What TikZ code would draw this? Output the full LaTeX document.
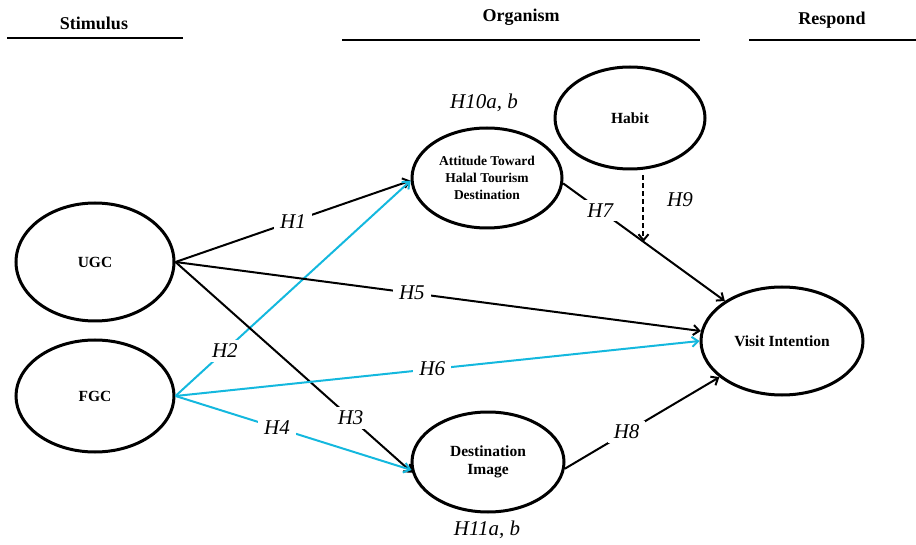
\documentclass[tikz,border=0pt]{standalone}
\usepackage{fontspec}
\setmainfont{Liberation Serif}
\usetikzlibrary{shapes.geometric,arrows.meta,calc}
\tikzset{
  construct/.style={draw, line width=3pt, ellipse, inner sep=0pt, align=center,
     font=\fontsize{15.5}{18}\selectfont\bfseries},
  link/.style={line width=2pt, -{Straight Barb[length=6pt,width=10pt,line width=2pt]}},
  cyanlink/.style={link, draw=hcyan},
  hlab/.style={fill=white, inner xsep=6pt, inner ysep=4pt, font=\fontsize{21}{23}\selectfont\itshape},
  glab/.style={inner sep=1pt, font=\fontsize{21}{23}\selectfont\itshape},
  header/.style={font=\fontsize{18}{20}\selectfont\bfseries},
  rule/.style={line width=2.2pt}
}
\definecolor{hcyan}{RGB}{20,184,222}
\begin{document}
\begin{tikzpicture}[x=1pt,y=-1pt]
\useasboundingbox (0,0) rectangle (916,545);
% headers
\node[header] (stim) at (94,23) {Stimulus};
\node[header] (org) at (521,17) {Organism};
\node[header] (resp) at (832,20) {Respond};
\coordinate (s1) at (7,38); \coordinate (s2) at (183,38);
\coordinate (o1) at (342,40); \coordinate (o2) at (700,40);
\coordinate (r1) at (749,40); \coordinate (r2) at (916,40);
\draw[rule] (s1) -- (s2);
\draw[rule] (o1) -- (o2);
\draw[rule] (r1) -- (r2);
% constructs
\node[construct, minimum width=158pt, minimum height=118pt] (ugc) at (95,262) {UGC};
\node[construct, minimum width=158pt, minimum height=112pt] (fgc) at (95,396) {FGC};
\node[construct, minimum width=150pt, minimum height=100pt,
      font=\fontsize{13.5}{17}\selectfont\bfseries] (att) at (487,178) {Attitude Toward\\Halal Tourism\\Destination};
\node[construct, minimum width=150pt, minimum height=102pt] (habit) at (630,118) {Habit};
\node[construct, minimum width=162pt, minimum height=108pt] (visit) at (782,341) {Visit Intention};
\node[construct, minimum width=152pt, minimum height=100pt] (dest) at (488,462) {Destination\\Image};
% group labels
\node[glab] (h10) at (484,103) {H10a, b};
\node[glab] (h11) at (487,530) {H11a, b};
% paths
\draw[link] (ugc.east) -- node[hlab, pos=0.5] {H1} (att.182);
\draw[cyanlink] (fgc.east) -- node[hlab, pos=0.21] {H2} (att.182);
\draw[link] (ugc.east) -- node[hlab, pos=0.74] {H3} (dest.188);
\draw[cyanlink] (fgc.east) -- node[hlab, pos=0.43] {H4} (dest.186);
\draw[link] (ugc.east) -- node[hlab, pos=0.45] {H5} (visit.173);
\draw[cyanlink] (fgc.east) -- node[hlab, pos=0.49] {H6} (visit.180);
\draw[link] (att.356) -- node[hlab, pos=0.23] {H7} coordinate[pos=0.497] (mod) (visit.145);
\draw[link] (dest.355) -- node[hlab, pos=0.40] {H8} (visit.210);
\draw[link, dash pattern=on 5pt off 3pt] ($(habit.south -| mod)+(0,5)$) -- (mod);
\node[glab] (h9) at (680,200) {H9};
\end{tikzpicture}
\end{document}
